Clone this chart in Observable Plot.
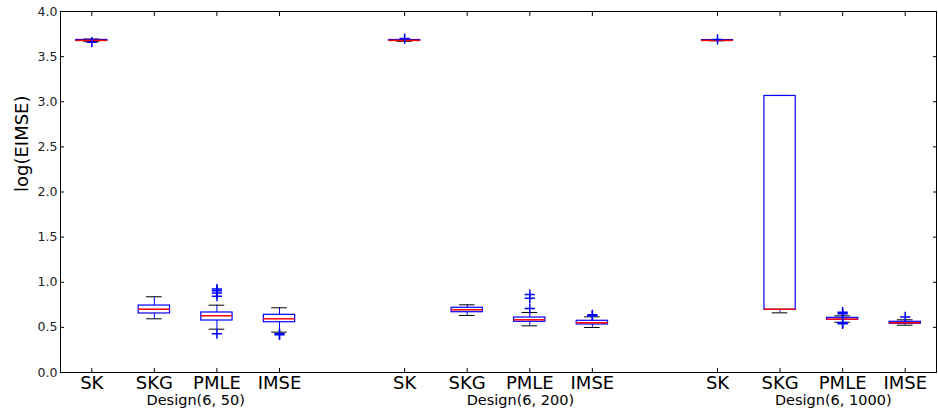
<!DOCTYPE html>
<html>
<head>
<meta charset="utf-8">
<script src="https://cdn.jsdelivr.net/npm/d3@7"></script>
<script src="https://cdn.jsdelivr.net/npm/@observablehq/plot@0.6"></script>
<style>
  html, body { margin: 0; padding: 0; background: #fff; }
  #chart svg { font-family: "DejaVu Sans", sans-serif; display: block; }
</style>
</head>
<body>
<div id="chart"></div>
<script>
// ---- data ----
const methods = ["SK", "SKG", "PMLE", "IMSE"];
const designs = ["Design(6, 50)", "Design(6, 200)", "Design(6, 1000)"];
const yTicks = [0, 0.5, 1.0, 1.5, 2.0, 2.5, 3.0, 3.5, 4.0];
// one entry per box, order: design-major, method-minor
const whiskerLow  = [3.665, 0.595, 0.480, 0.447,  3.670, 0.632, 0.517, 0.499,  3.675, 0.661, 0.557, 0.524];
const quartile1   = [3.675, 0.654, 0.576, 0.557,  3.676, 0.668, 0.562, 0.532,  3.678, 0.695, 0.584, 0.540];
const median      = [3.680, 0.701, 0.628, 0.595,  3.680, 0.695, 0.584, 0.551,  3.680, 0.700, 0.591, 0.551];
const quartile3   = [3.685, 0.742, 0.665, 0.639,  3.684, 0.717, 0.609, 0.573,  3.683, 3.064, 0.606, 0.562];
const whiskerHigh = [3.695, 0.839, 0.746, 0.717,  3.690, 0.750, 0.665, 0.617,  3.686, 3.070, 0.628, 0.584];
const outliers = [
  [3.660], [], [0.925, 0.905, 0.880, 0.845, 0.430], [0.428, 0.418],
  [3.700], [], [0.864, 0.823, 0.709], [0.639, 0.628],
  [3.690], [], [0.668, 0.650, 0.551, 0.540], [0.615]
];

// ---- build table ----
const boxes = [];
designs.forEach((d, gi) => methods.forEach((m, mi) => {
  const i = gi * methods.length + mi;
  boxes.push({
    design: d, method: m, pos: gi * (methods.length + 1) + mi + 1,
    lo: whiskerLow[i], q1: quartile1[i], med: median[i], q3: quartile3[i], hi: whiskerHigh[i]
  });
}));
const flierPts = boxes.flatMap((b, i) => outliers[i].map(v => ({pos: b.pos, v})));
const positions = boxes.map(b => b.pos);
const posLabel = new Map(boxes.map(b => [b.pos, b.method]));
const labelShift = [0.16, 0.35, 0.35];
const groupLabels = designs.map((d, gi) => {
  const ps = boxes.filter(b => b.design === d).map(b => b.pos);
  return {label: d, x: d3.mean(ps) + labelShift[gi]};
});

const hw = 0.25, cw = 0.125;

const chart = Plot.plot({
  width: 938,
  height: 419,
  marginLeft: 60,
  marginRight: 2,
  marginTop: 11,
  marginBottom: 47,
  style: {fontFamily: "DejaVu Sans, sans-serif", background: "white", overflow: "visible"},
  x: {type: "linear", domain: [0.5, 14.5]},
  y: {domain: [0, 4]},
  marks: [
    // whiskers
    Plot.ruleX(boxes, {x: "pos", y1: "q3", y2: "hi", stroke: "#0000ff", strokeWidth: 1}),
    Plot.ruleX(boxes, {x: "pos", y1: "lo", y2: "q1", stroke: "#0000ff", strokeWidth: 1}),
    // caps
    Plot.ruleY(boxes, {y: "hi", x1: d => d.pos - cw, x2: d => d.pos + cw, stroke: "black", strokeWidth: 1}),
    Plot.ruleY(boxes, {y: "lo", x1: d => d.pos - cw, x2: d => d.pos + cw, stroke: "black", strokeWidth: 1}),
    // boxes
    Plot.rect(boxes, {x1: d => d.pos - hw, x2: d => d.pos + hw, y1: "q1", y2: "q3", fill: "none", stroke: "#0000ff", strokeWidth: 1.2}),
    // medians
    Plot.ruleY(boxes, {y: "med", x1: d => d.pos - hw, x2: d => d.pos + hw, stroke: "#ff0000", strokeWidth: 1.5}),
    // fliers
    Plot.dot(flierPts, {x: "pos", y: "v", symbol: "plus", r: 3.4, stroke: "#0000ff", strokeWidth: 1.5}),
    // frame
    Plot.frame({stroke: "black", strokeWidth: 1}),
    // axes: inward ticks
    Plot.axisX({anchor: "bottom", ticks: positions, tickSize: -4, tickFormat: () => "", label: null}),
    Plot.axisX({anchor: "top", ticks: positions, tickSize: -4, tickFormat: () => "", label: null}),
    Plot.axisX({anchor: "bottom", ticks: positions, tickSize: 0, tickPadding: 4, tickFormat: p => posLabel.get(p), fontSize: 18, fill: "black", label: null}),
    Plot.axisY({anchor: "left", ticks: yTicks, tickSize: -4, tickFormat: () => "", label: null}),
    Plot.axisY({anchor: "right", ticks: yTicks, tickSize: -4, tickFormat: () => "", label: null}),
    Plot.axisY({anchor: "left", ticks: yTicks, tickSize: 0, tickPadding: 3, tickFormat: d3.format(".1f"), fontSize: 12.5, fill: "#222", label: null}),
    // group labels
    Plot.text(groupLabels, {x: "x", y: () => 0, text: "label", dy: 22, lineAnchor: "top", fontSize: 14.5, fill: "black"}),
    // y label
    Plot.text(["log(EIMSE)"], {frameAnchor: "left", text: d => d, rotate: -90, dx: -38, fontSize: 18, fill: "black", lineAnchor: "middle"})
  ]
});
document.getElementById("chart").appendChild(chart);
</script>
</body>
</html>
